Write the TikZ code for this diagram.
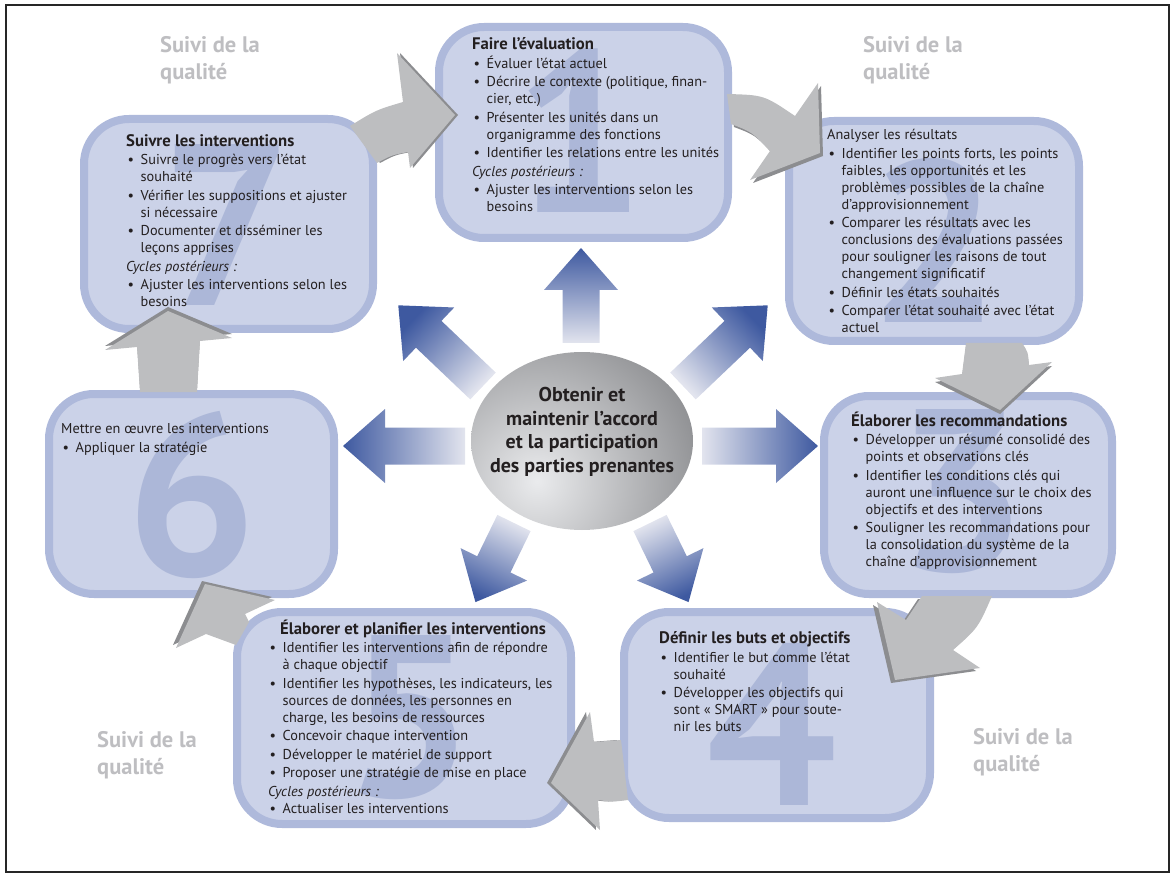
\documentclass[tikz,border=0pt]{standalone}
\usepackage{fontspec}
\setmainfont{PT Sans}
\usetikzlibrary{shapes.geometric,calc}

\definecolor{boxfill}{RGB}{203,210,232}
\definecolor{boxline}{RGB}{174,185,219}
\definecolor{bignum}{RGB}{172,183,216}
\definecolor{inktext}{RGB}{35,31,32}
\definecolor{cycfill}{RGB}{189,190,192}
\definecolor{cycedge}{RGB}{140,141,144}
\definecolor{qualgrey}{RGB}{190,190,193}
\definecolor{spokedark}{RGB}{62,89,160}
\definecolor{spokelight}{RGB}{226,228,238}
\definecolor{hubdark}{RGB}{132,133,136}
\definecolor{hublight}{RGB}{234,235,237}

\tikzset{
  stage/.style={draw=boxline, fill=boxfill, line width=8pt, rounded corners=45pt, inner sep=0pt},
  bignumber/.style={text=bignum, inner sep=0pt, font=\fontsize{230}{230}\selectfont\bfseries},
  stagetext/.style={anchor=north west, inner sep=0pt, text=inktext, align=left,
    font=\fontsize{14.3}{17}\selectfont, execute at begin node=\rule{0pt}{15.5pt}},
  quality/.style={anchor=north west, inner sep=0pt, text=qualgrey, align=left,
    font=\fontsize{22.5}{27}\selectfont\bfseries, execute at begin node=\rule{0pt}{16pt}},
  hub/.style={ellipse, minimum width=222pt, minimum height=178pt, inner sep=0pt,
    path picture={\shade[inner color=hublight, outer color=hubdark]
      ($(path picture bounding box.center)+(-45,40)$) circle (190);}},
  hubtext/.style={inner sep=0pt, align=center, text=inktext, font=\fontsize{20}{23.7}\selectfont\bfseries},
  spoke/.style={top color=spokedark, bottom color=spokelight},
}

\newcommand\stagetitle[1]{{\fontsize{16.7}{17}\selectfont\bfseries #1}}
\newcommand\bul{\makebox[14.5pt][l]{\hspace{1.5pt}•}}
\newcommand\ind{\hspace*{14.5pt}}
% grey block arrow of the cycle, with its darker edge
\newcommand\cyclearrow[2]{\fill[cycedge, shift={#1}] #2; \fill[cycfill] #2;}
% blue arrow leaving the hub
\newcommand\spoke[4]{%
  \coordinate (sp) at ($(hub.center)+(#1,#2)$);
  \pgfmathsetmacro\spokeshade{#3-90}
  \shade[spoke, shading angle=\spokeshade]
    ($(sp)+(90-#3:18.5)$) -- ($(sp)+(-#3:#4-42)+(90-#3:18.5)$)
    -- ($(sp)+(-#3:#4-42)+(90-#3:37)$) -- ($(sp)+(-#3:#4)$)
    -- ($(sp)+(-#3:#4-42)+(-90-#3:37)$) -- ($(sp)+(-#3:#4-42)+(-90-#3:18.5)$)
    -- ($(sp)+(-90-#3:18.5)$) -- cycle;}

\begin{document}
\begin{tikzpicture}[x=1pt,y=-1pt]
\useasboundingbox (0,0) rectangle (1173,877);

% the seven stages
\node[stage, minimum width=289pt, minimum height=211pt] (s1) at (583.5,132.5) {};
\node[stage, minimum width=290pt, minimum height=220pt] (s2) at (934,231) {};
\node[stage, minimum width=288pt, minimum height=198pt] (s3) at (968,495) {};
\node[stage, minimum width=306pt, minimum height=206pt] (s4) at (777,715) {};
\node[stage, minimum width=334pt, minimum height=212pt] (s5) at (404,718) {};
\node[stage, minimum width=285pt, minimum height=200pt] (s6) at (191.5,494) {};
\node[stage, minimum width=289pt, minimum height=210pt] (s7) at (228.5,224) {};

\node[bignumber] (n1) at (580,131) {1};
\node[bignumber] (n2) at (935,240) {2};
\node[bignumber] (n3) at (962,492) {3};
\node[bignumber] (n4) at (772,724) {4};
\node[bignumber] (n5) at (410,718) {5};
\node[bignumber] (n6) at (192,495) {6};
\node[bignumber] (n7) at (227,225) {7};

\node[stagetext] (t1) at (472,37.5) {\stagetitle{Faire l’évaluation}\\[1.5pt]
  \bul Évaluer l’état actuel\\[1.5pt]
  \bul Décrire le contexte (politique, finan-\\
  \ind cier, etc.)\\[1.5pt]
  \bul Présenter les unités dans un\\
  \ind organigramme des fonctions\\[1.5pt]
  \bul Identifier les relations entre les unités\\[1.5pt]
  \textit{Cycles postérieurs :}\\[1.5pt]
  \bul Ajuster les interventions selon les\\
  \ind besoins};
\node[stagetext] (t2) at (827,129.5) {Analyser les résultats\\[1.5pt]
  \bul Identifier les points forts, les points\\
  \ind faibles, les opportunités et les\\
  \ind problèmes possibles de la chaîne\\
  \ind d’approvisionnement\\[1.5pt]
  \bul Comparer les résultats avec les\\
  \ind conclusions des évaluations passées\\
  \ind pour souligner les raisons de tout\\
  \ind changement significatif\\[1.5pt]
  \bul Définir les états souhaités\\[1.5pt]
  \bul Comparer l’état souhaité avec l’état\\
  \ind actuel};
\node[stagetext] (t3) at (851,411.5) {\stagetitle{Élaborer les recommandations}\\[1.5pt]
  \bul Développer un résumé consolidé des\\
  \ind points et observations clés\\[1.5pt]
  \bul Identifier les conditions clés qui\\
  \ind auront une influence sur le choix des\\
  \ind objectifs et des interventions\\[1.5pt]
  \bul Souligner les recommandations pour\\
  \ind la consolidation du système de la\\
  \ind chaîne d’approvisionnement};
\node[stagetext] (t4) at (659,631.5) {\stagetitle{Définir les buts et objectifs}\\[1.5pt]
  \bul Identifier le but comme l’état\\
  \ind souhaité\\[1.5pt]
  \bul Développer les objectifs qui\\
  \ind sont « SMART » pour soute-\\
  \ind nir les buts};
\node[stagetext] (t5) at (268,619.5) {\hspace*{12pt}\stagetitle{Élaborer et planifier les interventions}\\[1.5pt]
  \bul Identifier les interventions afin de répondre\\
  \ind à chaque objectif\\[1.5pt]
  \bul Identifier les hypothèses, les indicateurs, les\\
  \ind sources de données, les personnes en\\
  \ind charge, les besoins de ressources\\[1.5pt]
  \bul Concevoir chaque intervention\\[1.5pt]
  \bul Développer le matériel de support\\[1.5pt]
  \bul Proposer une stratégie de mise en place\\[1.5pt]
  \textit{Cycles postérieurs :}\\
  \bul Actualiser les interventions};
\node[stagetext] (t6) at (61,423.5) {Mettre en œuvre les interventions\\[1.5pt]
  \bul Appliquer la stratégie};
\node[stagetext] (t7) at (126,134) {\stagetitle{Suivre les interventions}\\[1.5pt]
  \bul Suivre le progrès vers l’état\\
  \ind souhaité\\[1.5pt]
  \bul Vérifier les suppositions et ajuster\\
  \ind si nécessaire\\[1.5pt]
  \bul Documenter et disséminer les\\
  \ind leçons apprises\\[1.5pt]
  \textit{Cycles postérieurs :}\\[1.5pt]
  \bul Ajuster les interventions selon les\\
  \ind besoins};

% grey arrows of the cycle
\cyclearrow{(3,3)}{(727,94) .. controls (764,95) .. (795,116) -- (818,83) -- (820,153) -- (750,180) -- (770,151) .. controls (752,132) .. (731,124) -- cycle}
\cyclearrow{(0,4)}{(966,343) -- (962,374) -- (935,378) -- (1000,410) -- (1052,362) -- (1029,365) .. controls (1028,352) .. (1022,343) -- cycle}
\cyclearrow{(-4,3)}{(922,596) -- (906,620) -- (877,602) -- (895,680) -- (980,668) -- (953,650) .. controls (978,628) .. (992,596) -- cycle}
\cyclearrow{(-4,0)}{(621,740) -- (594,742) -- (590,712) -- (551,783) -- (600,830) -- (598,800) .. controls (612,802) .. (628,800) -- cycle}
\cyclearrow{(-3,-3)}{(249,622) -- (245,614) -- (275,600) -- (205,584) -- (176,648) -- (206,634) -- (236,645) -- cycle}
\cyclearrow{(0,-4)}{(140,392) -- (137,347) -- (105,350) -- (168,311) -- (232,338) -- (200,341) -- (197,392) -- cycle}
\cyclearrow{(3,0)}{(350,126) .. controls (376,110) .. (403,102) -- (397,53) -- (455,115) -- (410,168) -- (408,152) .. controls (392,155) .. (377,163) -- cycle}

% the hub and its arrows
\node[hub] (hub) at (582,441) {};
\node[hubtext] (hubtext) at (582,432) {Obtenir et\\maintenir l’accord\\et la participation\\des parties prenantes};
\foreach \dx/\dy/\ang/\len in {-1/-98/90/95, 101/-55/43.6/117, 120/5/0/116, 68/82/296/88,
    -68/82/244/88, -117/5/180/122, -99/-55/136.4/117}
  \spoke{\dx}{\dy}{\ang}{\len};

\node[quality] (q1) at (160,36) {Suivi de la\\qualité};
\node[quality] (q2) at (863,36) {Suivi de la\\qualité};
\node[quality] (q3) at (973,728) {Suivi de la\\qualité};
\node[quality] (q4) at (97,731) {Suivi de la\\qualité};

\draw[line width=2.5pt, black!85] (6,5) rectangle (1169,872);
\end{tikzpicture}
\end{document}
